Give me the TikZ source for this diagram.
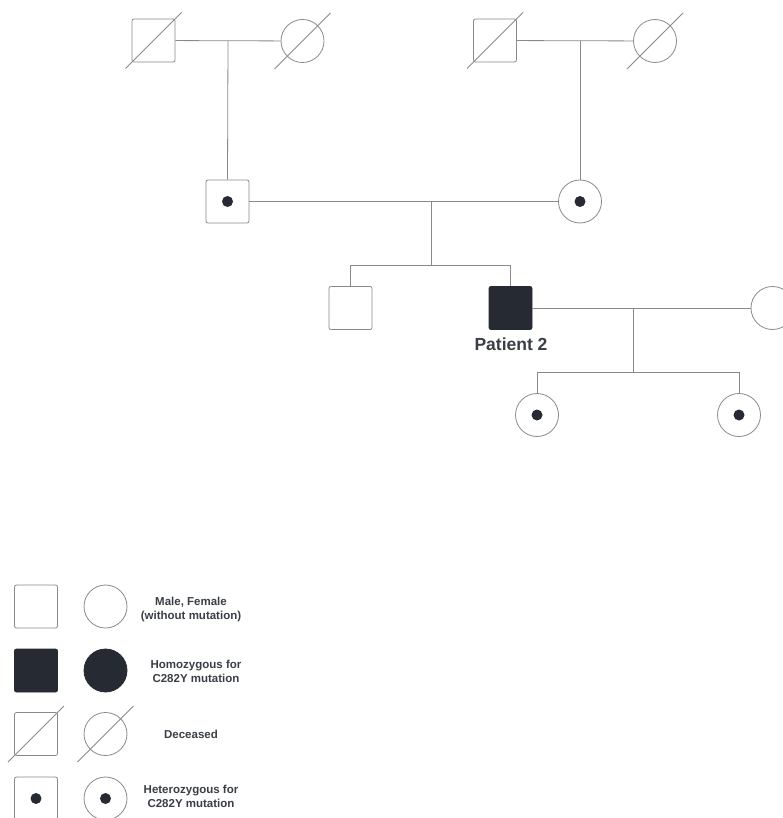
\documentclass[tikz,border=0pt]{standalone}
\usepackage{fontspec}
\setmainfont{Liberation Sans}
\definecolor{inkdark}{HTML}{262A33}
\definecolor{linegray}{HTML}{8A8A8A}
\definecolor{textgray}{HTML}{3A3F46}
\tikzset{
  male/.style={draw=linegray, line width=0.8pt, rounded corners=2pt, minimum size=43pt, inner sep=0pt},
  female/.style={circle, draw=linegray, line width=0.8pt, minimum size=43pt, inner sep=0pt},
  affected/.style={fill=inkdark, draw=inkdark},
  link/.style={draw=linegray, line width=0.8pt},
  legendtext/.style={text=textgray, font=\bfseries\fontsize{11.5}{14}\selectfont, align=center}
}
\newcommand{\carrierdot}[1]{\fill[inkdark] (#1) circle (5.5pt);}
\newcommand{\deceasedmark}[1]{\draw[link] (#1) ++(-28,28) -- ++(56,-56);}
\begin{document}
\begin{tikzpicture}[x=1pt,y=-1pt]
            \useasboundingbox[fill=white] (0,0) rectangle (783,818);
            \clip (0,0) rectangle (783,818);

            % Generation I
            \node[male] (gfa) at (153.5,40.5) {};
            \node[female] (gma) at (302.5,41) {};
            \node[male] (gfb) at (495,40.5) {};
            \node[female] (gmb) at (655,41) {};
            \deceasedmark{gfa}
            \deceasedmark{gma}
            \deceasedmark{gfb}
            \deceasedmark{gmb}

            % Generation II
            \node[male] (father) at (227.5,201.5) {};
            \node[female] (mother) at (580,201.5) {};
            \carrierdot{father}
            \carrierdot{mother}

            % Generation III
            \node[male] (brother) at (350.5,308) {};
            \node[male, affected] (patient) at (510.5,308) {};
            \node[female] (wife) at (772.5,308) {};
            \node[text=textgray, font=\bfseries\fontsize{17.5}{20}\selectfont] (plabel) at (511,344) {Patient 2};

            % Generation IV
            \node[female] (girla) at (537,415) {};
            \node[female] (girlb) at (739,415) {};
            \carrierdot{girla}
            \carrierdot{girlb}

            % Couple lines and descent
            \coordinate (ma) at (228,41);
            \coordinate (mb) at (580,41);
            \coordinate (mc) at (431,201.5);
            \coordinate (sc) at (431,265);
            \coordinate (md) at (633,308);
            \coordinate (sd) at (633,372);

            \draw[link] (gfa) -- (gma);
            \draw[link] (gfb) -- (gmb);
            \draw[link] (ma) -- (father.north);
            \draw[link] (mb) -- (mother.north);
            \draw[link] (father) -- (mother);
            \draw[link] (mc) -- (sc);
            \draw[link] (brother.north) -- (brother.north |- sc) -- (patient.north |- sc) -- (patient.north);
            \draw[link] (patient) -- (wife);
            \draw[link] (md) -- (sd);
            \draw[link] (girla.north) -- (girla.north |- sd) -- (girlb.north |- sd) -- (girlb.north);

            % Legend
            \node[male] (lma) at (36,606.5) {};
            \node[female] (lfa) at (105.5,606.5) {};
            \node[legendtext] (lta) at (191,610) {Male, Female\\(without mutation)};

            \node[male, affected] (lmb) at (36,670.5) {};
            \node[female, affected] (lfb) at (105.5,670.5) {};
            \node[legendtext] (ltb) at (196,671) {Homozygous for\\C282Y mutation};

            \node[male] (lmc) at (36,734) {};
            \node[female] (lfc) at (105.5,734) {};
            \deceasedmark{lmc}
            \deceasedmark{lfc}
            \node[legendtext] (ltc) at (191,734) {Deceased};

            \node[male] (lmd) at (36,798.5) {};
            \node[female] (lfd) at (105.5,798.5) {};
            \carrierdot{lmd}
            \carrierdot{lfd}
            \node[legendtext] (ltd) at (191,796) {Heterozygous for\\C282Y mutation};
        \end{tikzpicture}
\end{document}
